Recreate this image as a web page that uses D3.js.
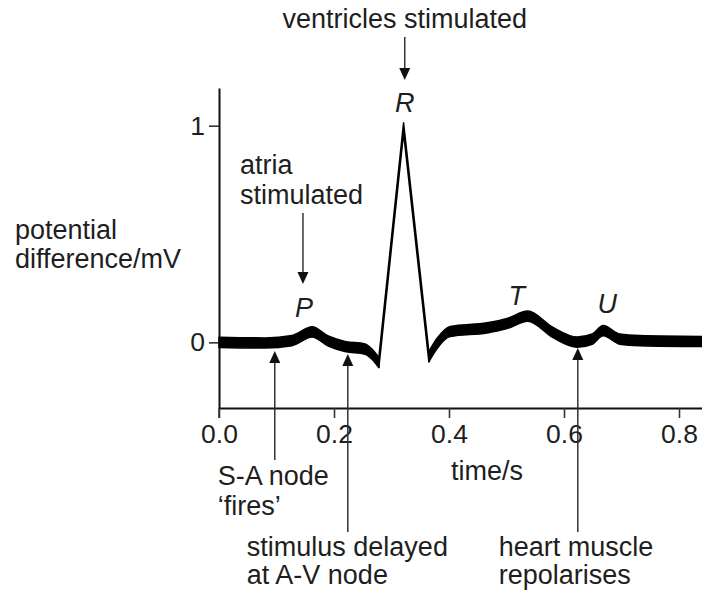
<!DOCTYPE html>
<html>
<head>
<meta charset="utf-8">
<script src="https://cdn.jsdelivr.net/npm/d3@7"></script>
<style>
  html, body { margin: 0; padding: 0; background: #fff; }
  svg { display: block; }
  text { font-family: "Liberation Sans", Arial, Helvetica, sans-serif; fill: #1e1e1e; }
</style>
</head>
<body>
<svg id="chart" width="702" height="591"></svg>
<script>
// ---- data ----
const times = [0.000, 0.080, 0.127, 0.162, 0.190, 0.219, 0.254, 0.266, 0.278,
               0.321,
               0.365, 0.379, 0.402, 0.466, 0.501, 0.537, 0.581, 0.623, 0.649, 0.668, 0.697, 0.732, 0.840];
const volts = [0.000, -0.003, 0.008, 0.048, 0.006, -0.019, -0.031, -0.054, -0.093,
               0.990,
               -0.066, -0.006, 0.050, 0.067, 0.087, 0.121, 0.045, 0.001, 0.015, 0.054, 0.015, 0.008, 0.004];
const xTicks = [0.0, 0.2, 0.4, 0.6, 0.8];
const yTicks = [0, 1];
const waveNames = ["P", "R", "T", "U"];
const waveTimes = [0.148, 0.323, 0.518, 0.675];
const xTitle = "time/s";
const yTitle = ["potential", "difference/mV"];
const topNotes = [["ventricles stimulated"], ["atria", "stimulated"]];
const topNoteTimes = [0.323, 0.146];
const bottomNotes = [["S-A node", "\u2018fires\u2019"], ["stimulus delayed", "at A-V node"], ["heart muscle", "repolarises"]];
const bottomNoteTimes = [0.097, 0.224, 0.624];

// ---- layout ----
const svg = d3.select("#chart");
const x = d3.scaleLinear().domain([0, 0.84]).range([219, 702]);
const y = d3.scaleLinear().domain([-0.303, 1.174]).range([408, 88]);
const FS = 27;

// axes
const xAxis = svg.append("g").attr("transform", `translate(0,${y(-0.303)})`)
  .call(d3.axisBottom(x).tickValues(xTicks).tickFormat(d3.format(".1f"))
        .tickSize(10).tickSizeOuter(0).tickPadding(6));
const yAxis = svg.append("g").attr("transform", `translate(${x(0)},0)`)
  .call(d3.axisLeft(y).tickValues(yTicks).tickFormat(d3.format("d"))
        .tickSize(10).tickSizeOuter(0).tickPadding(4));
[xAxis, yAxis].forEach(g => {
  g.select(".domain").attr("stroke", "#111").attr("stroke-width", 2);
  g.selectAll(".tick line").attr("stroke", "#333").attr("stroke-width", 1.6);
  g.selectAll(".tick text").attr("font-size", 26.5).attr("fill", "#1e1e1e")
    .attr("font-family", "Liberation Sans, Arial, sans-serif");
});
// extend the y axis down to the tick length
svg.append("line").attr("x1", x(0)).attr("x2", x(0))
  .attr("y1", y(-0.303)).attr("y2", y(-0.303) + 10)
  .attr("stroke", "#333").attr("stroke-width", 1.6);

// axis titles
svg.append("text").attr("x", 487).attr("y", 480).attr("text-anchor", "middle")
  .attr("font-size", FS).text(xTitle);
yTitle.forEach((t, i) => svg.append("text").attr("x", 15).attr("y", 239 + i * 29)
  .attr("font-size", FS).text(t));

// ---- trace (flat-nib pen: constant vertical thickness) ----
const pts = times.map((t, i) => ({ t, v: volts[i] }));
const iR = d3.maxIndex(volts);
const hw = 5.1;
const mkArea = c => d3.area().x(d => x(d.t)).y0(d => y(d.v) + hw).y1(d => y(d.v) - hw).curve(c);
const segs = [
  { data: pts.slice(0, iR), curve: d3.curveMonotoneX },
  { data: pts.slice(iR - 1, iR + 2), curve: d3.curveLinear },
  { data: pts.slice(iR + 1), curve: d3.curveMonotoneX }
];
svg.append("g").selectAll("path").data(segs).join("path")
  .attr("d", s => mkArea(s.curve)(s.data))
  .attr("fill", "#000").attr("stroke", "#000").attr("stroke-width", 1.5)
  .attr("stroke-linejoin", "round");

// wave labels
const waveY = [0.117, 1.063, 0.172, 0.135];
waveNames.forEach((n, i) => svg.append("text")
  .attr("x", x(waveTimes[i])).attr("y", y(waveY[i]))
  .attr("text-anchor", "middle").attr("font-size", FS).attr("font-style", "italic").text(n));

// ---- arrows ----
function arrow(xp, yFrom, yTip) {
  const dir = yTip > yFrom ? 1 : -1;
  const headLen = 12, half = 5.5;
  svg.append("line").attr("x1", xp).attr("x2", xp)
    .attr("y1", yFrom).attr("y2", yTip - dir * headLen + dir * 1)
    .attr("stroke", "#333").attr("stroke-width", 1.5);
  svg.append("path")
    .attr("d", `M${xp},${yTip}L${xp - half},${yTip - dir * headLen}L${xp + half},${yTip - dir * headLen}Z`)
    .attr("fill", "#111");
}

// top notes
const topLayout = [
  { anchor: "middle", dx: 0, y0: 28, gap: 30, from: 37, tip: 80 },
  { anchor: "start", dx: -63, y0: 174, gap: 30, from: 213, tip: 284 }
];
topNotes.forEach((lines, i) => {
  const L = topLayout[i], xp = x(topNoteTimes[i]);
  lines.forEach((t, j) => svg.append("text").attr("x", xp + L.dx).attr("y", L.y0 + j * L.gap)
    .attr("text-anchor", L.anchor).attr("font-size", FS).text(t));
  arrow(xp, L.from, L.tip);
});

// bottom notes
const bottomLayout = [
  { dx: -57, y0: 485, gap: 30, from: 460, tip: 351 },
  { dx: -101, y0: 556, gap: 28, from: 532, tip: 354 },
  { dx: -79, y0: 556, gap: 28, from: 532, tip: 348 }
];
bottomNotes.forEach((lines, i) => {
  const L = bottomLayout[i], xp = x(bottomNoteTimes[i]);
  lines.forEach((t, j) => svg.append("text").attr("x", xp + L.dx).attr("y", L.y0 + j * L.gap)
    .attr("font-size", FS).text(t));
  arrow(xp, L.from, L.tip);
});
</script>
</body>
</html>
